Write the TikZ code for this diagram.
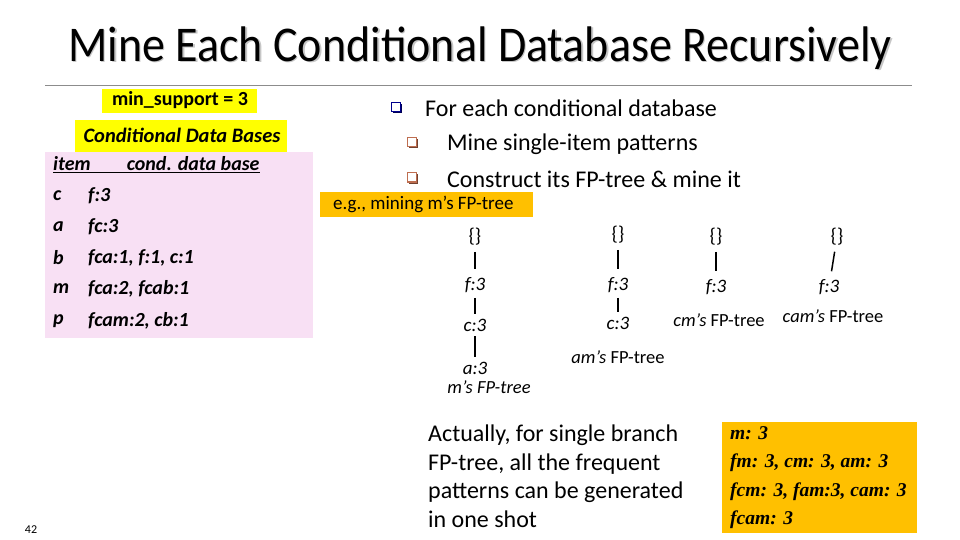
\documentclass[tikz,border=0pt]{standalone}
\usepackage{fontspec}
\setmainfont{Carlito}
\newfontfamily\timesf{Liberation Serif}
\definecolor{hiyel}{RGB}{255,255,0}
\definecolor{pinkbg}{RGB}{248,224,244}
\definecolor{orng}{RGB}{255,192,0}
\definecolor{bulblue}{RGB}{0,0,140}
\definecolor{bulbrown}{RGB}{190,110,80}
\definecolor{rulegray}{RGB}{140,140,140}
\tikzset{
  px/.style={x=1pt,y=-1pt},
  body/.style={font=\fontsize{24}{28}\selectfont, anchor=west, inner sep=0pt},
  tbl/.style={font=\fontsize{20}{24}\selectfont\bfseries\itshape, anchor=west, inner sep=0pt},
  tree/.style={font=\fontsize{19}{22}\selectfont\itshape, inner sep=1pt},
  root/.style={font=\fontsize{20}{22}\selectfont, inner sep=1pt},
  treelab/.style={font=\fontsize{18.5}{22}\selectfont, inner sep=0pt},
  edge/.style={line width=1.5pt, shorten <=5pt, shorten >=7pt},
  midedge/.style={line width=1.5pt, shorten <=4pt, shorten >=4pt},
}
\newcommand{\qbox}[2]{%
  \fill[#2!60!black] ($(#1)+(1.5,1.5)$) rectangle ++(9,9);
  \filldraw[draw=#2, fill=white, line width=1pt] (#1) rectangle ++(9,9);
}
\usetikzlibrary{calc}
\begin{document}
\begin{tikzpicture}[px]
\useasboundingbox (0,0) rectangle (960,540);
\fill[white] (0,0) rectangle (960,540);
% title
\node (titleshadow) [text=gray!45, font=\fontsize{50}{54}\selectfont, xscale=0.92, inner sep=0pt] at (481.5,49.5) {Mine Each Conditional Database Recursively};
\node (title) [font=\fontsize{50}{54}\selectfont, xscale=0.92, inner sep=0pt] at (480,48) {Mine Each Conditional Database Recursively};
\draw[rulegray, line width=1pt] (45,86) -- (912,86);
% left
\fill[hiyel] (102,89) rectangle (257,113);
\node (minsup) [font=\fontsize{20}{24}\selectfont\bfseries, inner sep=0pt] at (180,100) {min\_support = 3};
\fill[hiyel] (75,120) rectangle (287,152);
\node (cdb) [font=\fontsize{20.5}{24}\selectfont\bfseries\itshape, inner sep=0pt] at (182,135) {Conditional Data Bases};
\fill[pinkbg] (45,152) rectangle (313,338);
\node (hdr) [tbl] at (53,165) {\underline{item\hspace{36pt}cond. data base}};
\node (r1a) [tbl] at (53,196) {c};
\node (r1b) [tbl] at (88,196) {f:3};
\node (r2a) [tbl] at (53,227) {a};
\node (r2b) [tbl] at (88,227) {fc:3};
\node (r3a) [tbl] at (53,258) {b};
\node (r3b) [tbl] at (88,258) {fca:1, f:1, c:1};
\node (r4a) [tbl] at (53,289) {m};
\node (r4b) [tbl] at (88,289) {fca:2, fcab:1};
\node (r5a) [tbl] at (53,321) {p};
\node (r5b) [tbl] at (88,321) {fcam:2, cb:1};
% bullets
\coordinate (q1) at (391,103);
\coordinate (q2) at (407,138);
\coordinate (q3) at (407,173);
\qbox{q1}{bulblue}
\qbox{q2}{bulbrown}
\qbox{q3}{bulbrown}
\node (b1) [body] at (425,108) {For each conditional database};
\node (b2) [body] at (447,144) {Mine single-item patterns};
\node (b3) [body] at (447,179) {Construct its FP-tree \& mine it};
\fill[orng] (320,192) rectangle (533,217);
\node (eg) [font=\fontsize{19}{22}\selectfont, anchor=west, inner sep=0pt] at (333,204) {e.g., mining m's FP-tree};
% m's tree
\node (m0) [root] at (475,237) {\{\}};
\node (m1) [tree] at (475,285) {f:3};
\node (m2) [tree] at (475,325) {c:3};
\node (m3) [tree] at (475,368) {a:3};
\node (ml) [treelab] at (489,387) {\itshape m's FP-tree};
\draw[edge] (m0) -- (m1);
\draw[midedge] (m1) -- (m2);
\draw[midedge] (m2) -- (m3);
% am's tree
\node (a0) [root] at (618,235) {\{\}};
\node (a1) [tree] at (618,285) {f:3};
\node (a2) [tree] at (618,323) {c:3};
\node (al) [treelab] at (618,357) {\itshape am's \upshape FP-tree};
\draw[edge] (a0) -- (a1);
\draw[midedge] (a1) -- (a2);
% cm's tree
\node (c0) [root] at (716,237) {\{\}};
\node (c1) [tree] at (716,287) {f:3};
\node (cl) [treelab] at (719,320) {\itshape cm's \upshape FP-tree};
\draw[edge] (c0) -- (c1);
% cam's tree
\node (d0) [root] at (837,237) {\{\}};
\node (d1) [tree] at (829,287) {f:3};
\node (dl) [treelab] at (833,316) {\itshape cam's \upshape FP-tree};
\draw[edge] (d0) -- (d1);
% bottom text
\node (act) [font=\fontsize{24}{28.5}\selectfont, align=left, anchor=north west, inner sep=0pt] at (428,425) {Actually, for single branch\\FP-tree, all the frequent\\patterns can be generated\\in one shot};
\fill[orng] (722,422) rectangle (917,533);
\node (res) [font=\fontsize{19.5}{28.5}\selectfont\timesf\bfseries\itshape, align=left, anchor=north west, inner sep=0pt] at (730,426) {m: 3\\fm: 3, cm: 3, am: 3\\fcm: 3, fam:3, cam: 3\\fcam: 3};
\node (pg) [font=\fontsize{12}{14}\selectfont, inner sep=0pt] at (31,530) {42};
\end{tikzpicture}
\end{document}
